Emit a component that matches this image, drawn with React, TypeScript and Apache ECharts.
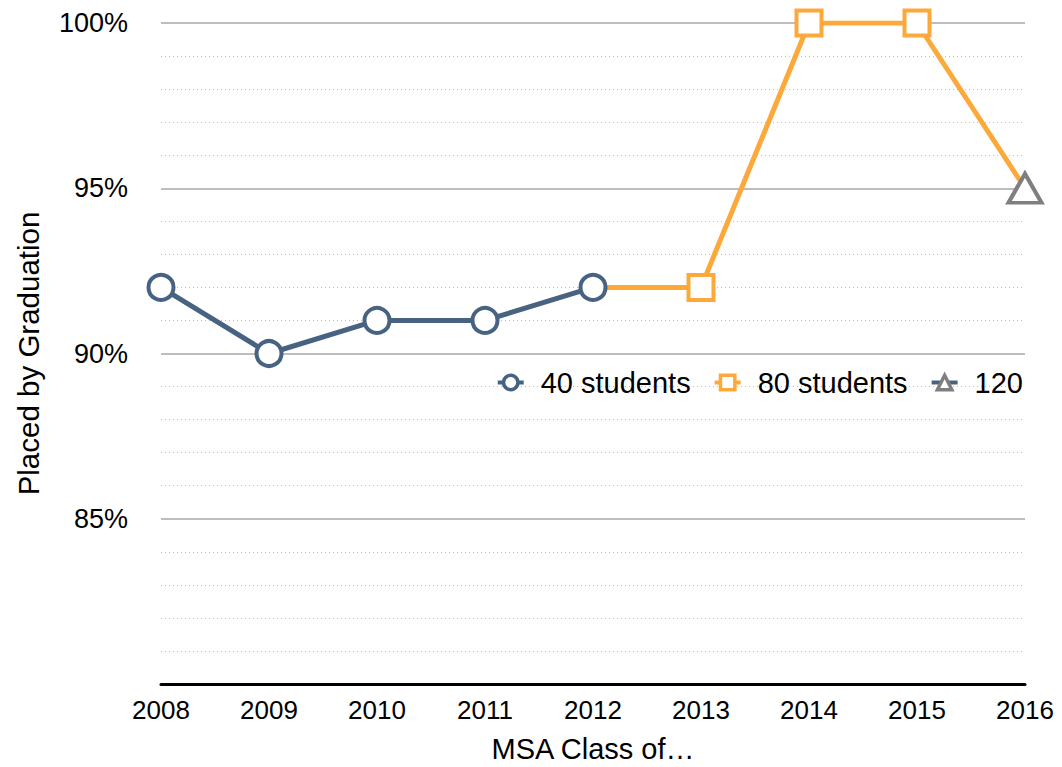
import React, { useEffect, useRef } from "react";
import * as echarts from "echarts";

const years = ["2008", "2009", "2010", "2011", "2012", "2013", "2014", "2015", "2016"];
const students40 = [92, 90, 91, 91, 92, null, null, null, null];
const students80 = [null, null, null, null, 92, 92, 100, 100, 95];
const students120 = [null, null, null, null, null, null, null, null, 95];
const seriesNames = ["40 students", "80 students", "120"];

const SLATE = "#476381";
const ORANGE = "#fda83a";
const GREY = "#7f7f7f";
const FONT = "Liberation Sans, Arial, sans-serif";

export default function App() {
  const ref = useRef<HTMLDivElement>(null);
  useEffect(() => {
    document.body.style.margin = "0";
    const chart = echarts.init(ref.current!, null, { renderer: "svg" });
    const n80 = students80.length;
    chart.setOption({
      animation: false,
      backgroundColor: "#ffffff",
      textStyle: { fontFamily: FONT },
      grid: { left: 161, right: 37, top: 23, bottom: 83, outerBoundsMode: "none" },
      legend: {
        right: 34,
        top: 363,
        itemWidth: 26,
        itemHeight: 18,
        itemGap: 22,
        itemStyle: { borderWidth: 3.5 },
        lineStyle: { width: 4 },
        textStyle: { fontSize: 29, color: "#000", fontFamily: FONT, padding: [0, 0, 0, 12] },
        data: seriesNames,
      },
      xAxis: {
        type: "category",
        data: years,
        boundaryGap: false,
        name: "MSA Class of…",
        nameLocation: "middle",
        nameGap: 50,
        nameTextStyle: { fontSize: 29, color: "#000", fontFamily: FONT },
        axisLine: { lineStyle: { color: "#000", width: 3 } },
        axisTick: { show: false },
        axisLabel: { fontSize: 26, color: "#000", margin: 13, fontFamily: FONT },
      },
      yAxis: {
        type: "value",
        min: 80,
        max: 100,
        interval: 5,
        name: "Placed by Graduation",
        nameLocation: "middle",
        nameGap: 118,
        nameTextStyle: { fontSize: 29.5, color: "#000", fontFamily: FONT },
        axisLine: { show: false },
        axisTick: { show: false },
        axisLabel: {
          fontSize: 27,
          color: "#000",
          margin: 33,
          fontFamily: FONT,
          formatter: (v: number) => (v === 80 ? "" : v + "%"),
        },
        splitLine: { lineStyle: { color: "#bdbdbd", width: 2 } },
        minorTick: { show: false, splitNumber: 5 },
        minorSplitLine: { show: true, lineStyle: { color: "#bdbdbd", width: 1, type: [1, 3] } },
      },
      series: [
        {
          name: seriesNames[1],
          type: "line",
          data: students80.map((v, i) =>
            i === 4 || i === n80 - 1 ? { value: v, symbol: "none" } : v
          ),
          symbol: "rect",
          symbolSize: 25,
          showAllSymbol: true,
          lineStyle: { color: ORANGE, width: 5 },
          itemStyle: { color: "#fff", borderColor: ORANGE, borderWidth: 4 },
          z: 2,
        },
        {
          name: seriesNames[0],
          type: "line",
          data: students40,
          symbol: "circle",
          symbolSize: 25,
          showAllSymbol: true,
          lineStyle: { color: SLATE, width: 5 },
          itemStyle: { color: "#fff", borderColor: SLATE, borderWidth: 4 },
          z: 3,
        },
        {
          name: seriesNames[2],
          type: "line",
          data: students120,
          symbol: "triangle",
          symbolSize: [33, 29],
          showAllSymbol: true,
          lineStyle: { color: SLATE, width: 5 },
          itemStyle: { color: "#fff", borderColor: GREY, borderWidth: 4 },
          z: 4,
        },
      ],
    });
    return () => chart.dispose();
  }, []);
  return (
    <div
      ref={ref}
      style={{ position: "absolute", left: 0, top: 0, width: 1062, height: 767 }}
    />
  );
}
